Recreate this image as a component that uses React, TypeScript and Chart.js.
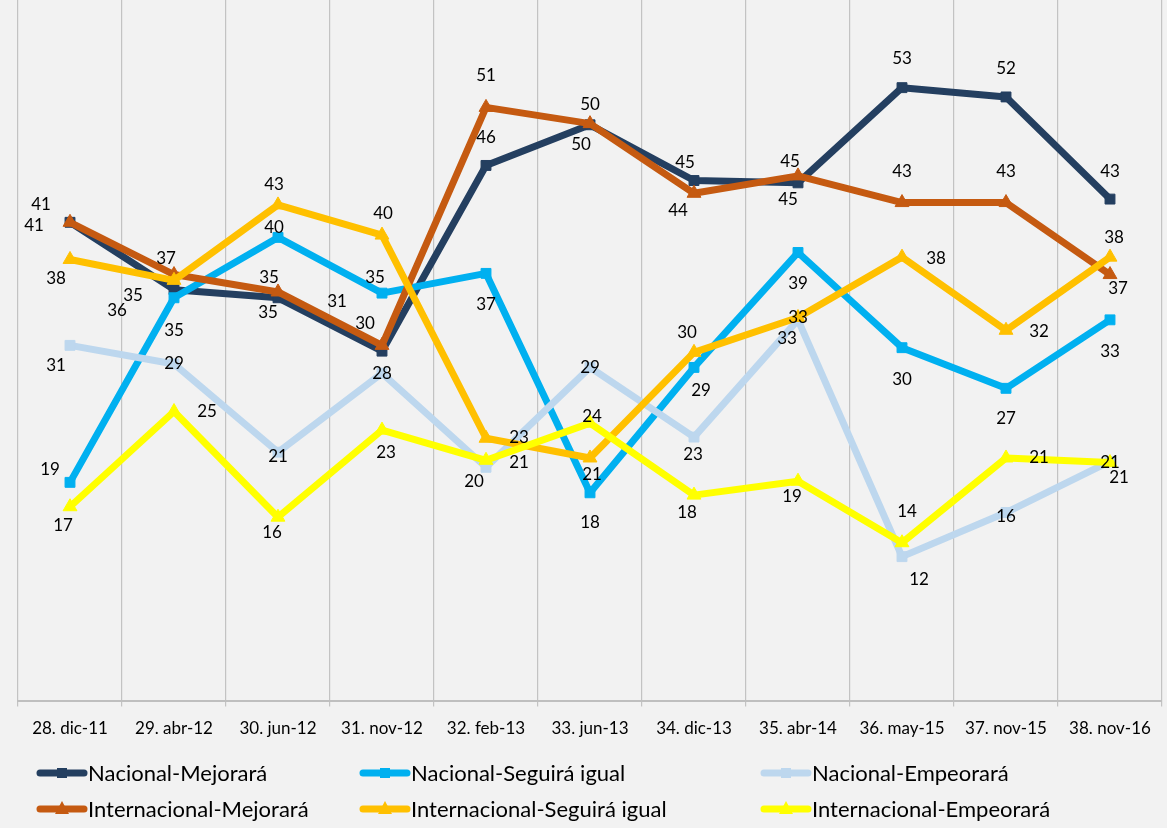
import React, { useEffect, useRef } from "react";
import { Chart, registerables } from "chart.js";

Chart.register(...registerables);

// ---- Data ----
const categories = [
  "28. dic-11", "29. abr-12", "30. jun-12", "31. nov-12", "32. feb-13", "33. jun-13",
  "34. dic-13", "35. abr-14", "36. may-15", "37. nov-15", "38. nov-16",
];
const seriesNames = [
  "Nacional-Mejorará",
  "Nacional-Seguirá igual",
  "Nacional-Empeorará",
  "Internacional-Mejorará",
  "Internacional-Seguirá igual",
  "Internacional-Empeorará",
];
const nacionalMejorara = [41.2, 35.4, 34.7, 30.1, 46.1, 49.6, 44.8, 44.6, 52.8, 52.0, 43.2];
const nacionalSeguiraIgual = [18.8, 34.7, 39.9, 35.1, 36.8, 17.9, 28.7, 38.6, 30.4, 26.9, 32.8];
const nacionalEmpeorara = [30.6, 29.0, 21.4, 28.2, 20.1, 28.7, 22.7, 32.8, 12.4, 16.2, 20.6];
const internacionalMejorara = [41.2, 36.7, 35.2, 30.6, 51.1, 49.7, 43.7, 45.2, 42.9, 42.9, 36.7];
const internacionalSeguiraIgual = [38.0, 36.2, 42.7, 40.1, 22.6, 20.9, 30.0, 33.0, 38.2, 31.9, 38.2];
const internacionalEmpeorara = [16.7, 24.9, 15.8, 23.3, 20.7, 23.9, 17.7, 18.9, 13.6, 20.9, 20.5];

// ---- Styles ----
const COLORS = ["#243f60", "#00b0f0", "#bdd7ee", "#c55a11", "#ffc000", "#ffff00"];
const STYLES = ["rect", "rect", "rect", "triangle", "triangle", "triangle"];
const FONT = "Lato, 'Open Sans', sans-serif";

// data-label placement (dx, dy in px from each point)
const LABEL_OFFSETS: number[][][] = [
  [[-36, 3], [-41, 6], [-10, 15], [-17, -28], [0, -28], [-9, 20], [-9, -18], [-10, 17], [0, -29], [0, -28], [0, -28]],
  [[-20, -13], [0, 33], [-4, -10], [-7, -16], [0, 31], [0, 30], [7, 23], [0, 31], [0, 32], [0, 30], [0, 32]],
  [[-14, 20], [0, 0], [0, 4], [0, 0], [-12, 14], [0, 0], [-1, 17], [-11, 19], [17, 23], [0, 4], [9, 16]],
  [[-29, -18], [-8, -16], [-9, -14], [-45, -44], [0, -32], [0, -19], [-16, 17], [-8, -14], [0, -31], [0, -31], [8, 14]],
  [[-14, 19], [-57, 30], [-4, -20], [1, -22], [33, -1], [2, 17], [-7, -20], [0, 0], [34, 1], [33, 1], [4, -20]],
  [[-7, 19], [33, 0], [-6, 15], [4, 22], [33, 2], [2, -7], [-7, 17], [-6, 15], [5, -31], [33, 0], [0, 0]],
];
const LEGEND_COLS = [37, 360, 761];
const LEGEND_ROWS = [773, 809];

const labelPlugin = {
  id: "pointLabels",
  afterDatasetsDraw(chart: any) {
    const ctx = chart.ctx;
    ctx.save();
    ctx.font = `17px ${FONT}`;
    ctx.fillStyle = "#000";
    ctx.textAlign = "center";
    ctx.textBaseline = "middle";
    chart.data.datasets.forEach((ds: any, i: number) => {
      const meta = chart.getDatasetMeta(i);
      meta.data.forEach((el: any, j: number) => {
        const off = LABEL_OFFSETS[i][j];
        ctx.fillText(String(Math.round(ds.data[j])), el.x + off[0], el.y + off[1]);
      });
    });
    ctx.restore();
  },
};

const legendPlugin = {
  id: "gridLegend",
  afterDraw(chart: any) {
    const ctx = chart.ctx;
    chart.data.datasets.forEach((ds: any, i: number) => {
      const x0 = LEGEND_COLS[i % 3];
      const y = LEGEND_ROWS[Math.floor(i / 3)];
      ctx.save();
      ctx.strokeStyle = ds.borderColor;
      ctx.lineWidth = 7;
      ctx.lineCap = "round";
      ctx.beginPath();
      ctx.moveTo(x0 + 3, y);
      ctx.lineTo(x0 + 47, y);
      ctx.stroke();
      ctx.fillStyle = ds.borderColor;
      const cx = x0 + 25;
      if (ds.pointStyle === "rect") {
        ctx.fillRect(cx - 5, y - 5, 10, 10);
      } else {
        ctx.beginPath();
        ctx.moveTo(cx, y - 8);
        ctx.lineTo(cx + 7, y + 5);
        ctx.lineTo(cx - 7, y + 5);
        ctx.closePath();
        ctx.fill();
      }
      ctx.fillStyle = "#000";
      ctx.font = `22px ${FONT}`;
      ctx.textAlign = "left";
      ctx.textBaseline = "middle";
      ctx.fillText(ds.label, x0 + 51, y + 1);
      ctx.restore();
    });
  },
};

export default function App() {
  const ref = useRef<HTMLCanvasElement | null>(null);
  useEffect(() => {
    if (!ref.current) return;
    const values = [
      nacionalMejorara, nacionalSeguiraIgual, nacionalEmpeorara,
      internacionalMejorara, internacionalSeguiraIgual, internacionalEmpeorara,
    ];
    const chart = new Chart(ref.current, {
      type: "line",
      data: {
        labels: categories,
        datasets: values.map((d, i) => ({
          label: seriesNames[i],
          data: d,
          borderColor: COLORS[i],
          backgroundColor: COLORS[i],
          pointBackgroundColor: COLORS[i],
          pointBorderColor: COLORS[i],
          borderWidth: 7,
          pointStyle: STYLES[i],
          pointRadius: STYLES[i] === "rect" ? 7 : 8,
          pointBorderWidth: 1,
          borderJoinStyle: "round",
          borderCapStyle: "round",
          tension: 0,
          order: 6 - i,
        })) as any,
      },
      options: {
        animation: false,
        responsive: false,
        maintainAspectRatio: false,
        layout: { autoPadding: false, padding: { left: 18, right: 5, top: 0, bottom: 77 } },
        plugins: { legend: { display: false }, tooltip: { enabled: false } },
        scales: {
          x: {
            offset: true,
            grid: { offset: true, color: "#c3c3c3", lineWidth: 1.2, tickLength: 6, drawTicks: true },
            border: { display: true, color: "#bfbfbf", width: 2 },
            ticks: {
              autoSkip: false,
              maxRotation: 0,
              padding: 12,
              color: "#000",
              font: { family: FONT, size: 17 },
            },
          },
          y: { display: false, min: 0, max: 60.35 },
        },
      },
      plugins: [labelPlugin, legendPlugin],
    } as any);
    return () => chart.destroy();
  }, []);
  return (
    <div style={{ position: "fixed", left: 0, top: 0, width: 1167, height: 828, background: "#f2f2f2" }}>
      <canvas ref={ref} width={1167} height={828} style={{ display: "block", width: 1167, height: 828 }} />
    </div>
  );
}
